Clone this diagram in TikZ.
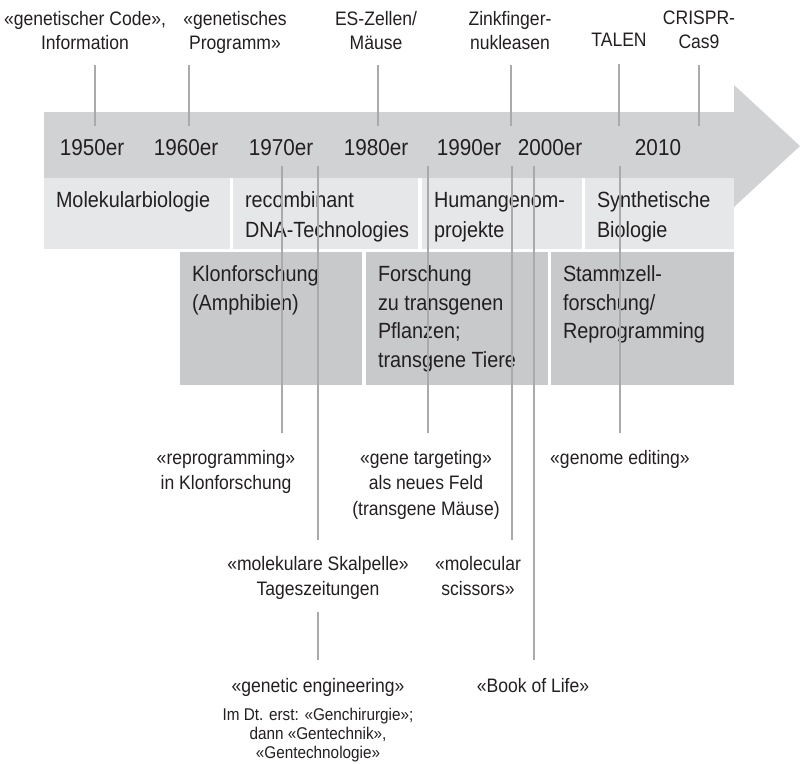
\documentclass[tikz,border=0pt]{standalone}
\usepackage{fontspec}
\setmainfont[FakeStretch=0.9]{Liberation Sans}
\usetikzlibrary{positioning}

\definecolor{bandgray}{HTML}{D1D2D4}
\definecolor{lightphase}{HTML}{E6E7E8}
\definecolor{darkphase}{HTML}{C8C9CB}
\definecolor{tickgray}{HTML}{A9AAAD}
\definecolor{inkgray}{HTML}{231F20}

\newcommand*{\bandLeft}{44}
\newcommand*{\bandTop}{112}
\newcommand*{\bandBot}{178}
\newcommand*{\headX}{734}
\newcommand\PhaseBox[7]{
	\fill [#2phase] (#3,#4) rectangle (#5,#6);
	\node [#2text] (#1) at (#3+12,#4+14) {#7};
}

\begin{document}
\begin{tikzpicture}[x=1pt, y=-1pt,
	every node/.style={inner sep=0pt, outer sep=0pt, text=inkgray},
	year/.style={anchor=base, font=\fontsize{23}{28}\selectfont},
	toplabel/.style={align=center, anchor=north, font=\fontsize{19.5}{24}\selectfont},
	lowlabel/.style={align=center, anchor=north, font=\fontsize{19.5}{25.5}\selectfont},
	notetext/.style={align=center, font=\fontsize{17}{19}\selectfont},
	lighttext/.style={anchor=north west, align=left, font=\fontsize{22}{30}\selectfont},
	darktext/.style={anchor=north west, align=left, font=\fontsize{22}{28.5}\selectfont},
	tickline/.style={draw=tickgray, line width=1.2pt}]
	\useasboundingbox (0,0) rectangle (800,763);
	% time arrow
	\fill [bandgray] (\bandLeft,\bandTop) -- (\headX,\bandTop) -- (\headX,85) -- (800,146)
		-- (\headX,207) -- (\headX,\bandBot) -- (\bandLeft,\bandBot) -- cycle;
	\foreach \yr/\x in {1950er/92,1960er/186,1970er/281,1980er/376,1990er/469,2000er/550,2010/658}
	{
		\node [year] (y\yr) at (\x,155) {\yr};
	}
	% phases
	\PhaseBox{molbio}{light}{44}{178}{230}{249}{Molekularbiologie}
	\PhaseBox{rdna}{light}{233}{178}{418}{249}{recombinant\\DNA-Technologies}
	\PhaseBox{hgp}{light}{422}{178}{582}{249}{Humangenom-\\projekte}
	\PhaseBox{synbio}{light}{585}{178}{734}{249}{Synthetische\\Biologie}
	\PhaseBox{klon}{dark}{180}{252}{362}{385}{Klonforschung\\(Amphibien)}
	\PhaseBox{transg}{dark}{366}{252}{548}{385}{Forschung\\zu transgenen\\Pflanzen;\\transgene Tiere}
	\PhaseBox{stamm}{dark}{551}{252}{734}{385}{Stammzell-\\forschung/\\Reprogramming}
	% labels above
	\node [toplabel] (gcode) at (85,11) {«genetischer Code»,\\Information};
	\node [toplabel] (gprog) at (235,11) {«genetisches\\Programm»};
	\node [toplabel] (escell) at (376,11) {ES-Zellen/\\Mäuse};
	\node [toplabel] (zinc) at (510,11) {Zinkfinger-\\nukleasen};
	\node [toplabel] (talen) at (619,33) {TALEN};
	\node [toplabel] (crispr) at (699,11) {CRISPR-\\Cas9};
	% labels below
	\node [lowlabel] (reprog) at (226,450) {«reprogramming»\\in Klonforschung};
	\node [lowlabel] (target) at (426,450) {«gene targeting»\\als neues Feld\\(transgene Mäuse)};
	\node [lowlabel] (editing) at (620,450) {«genome editing»};
	\node [lowlabel] (skalpell) at (318,556) {«molekulare Skalpelle»\\Tageszeitungen};
	\node [lowlabel] (scissors) at (478,556) {«molecular\\scissors»};
	\node [lowlabel] (geneng) at (318,678) {«genetic engineering»};
	\node [notetext, below=12pt of geneng] (gennote) {Im Dt. erst: «Genchirurgie»;\\dann «Gentechnik»,\\«Gentechnologie»};
	\node [lowlabel] (book) at (533,678) {«Book of Life»};
	% ticks
	\foreach \c/\x/\lab/\gap in {code/95/gcode/16pt,prog/189/gprog/12pt,es/378/escell/16pt,zfn/511/zinc/16pt,tal/619/talen/18pt,cas/699/crispr/16pt}
	{
		\coordinate (t\c) at (\x,126);
		\draw [tickline, shorten >=\gap] (t\c) -- (t\c |- \lab.south);
	}
	\foreach \c/\x/\lab/\gap in {rep/282/reprog/17pt,skal/318/skalpell/16pt,gt/428/target/17pt,sc/512/scissors/16pt,bol/534/book/18pt,ge/620/editing/17pt}
	{
		\coordinate (b\c) at (\x,166);
		\draw [tickline, shorten >=\gap] (b\c) -- (b\c |- \lab.north);
	}
	\draw [tickline, shorten <=12pt, shorten >=18pt] (skalpell.south) -- (geneng.north);
\end{tikzpicture}
\end{document}
